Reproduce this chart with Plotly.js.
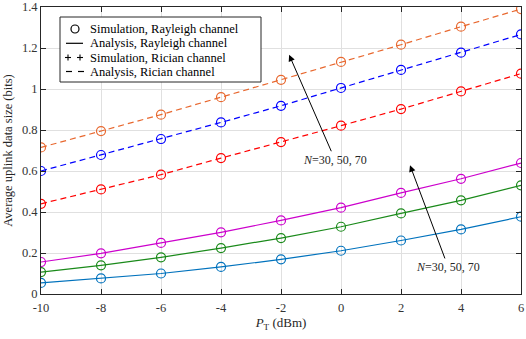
<!DOCTYPE html>
<html><head><meta charset="utf-8">
<script src="https://cdn.plot.ly/plotly-3.0.1.min.js"></script>
<style>body{margin:0;padding:0;background:#fff}#chart{width:526px;height:339px}</style>
</head><body><div id="chart"></div>
<script>
const pt = [-10, -8, -6, -4, -2, 0, 2, 4, 6];
const ricianN70 = [0.715, 0.795, 0.875, 0.960, 1.045, 1.132, 1.216, 1.304, 1.390];
const ricianN50 = [0.600, 0.678, 0.756, 0.837, 0.918, 1.005, 1.093, 1.177, 1.266];
const ricianN30 = [0.440, 0.510, 0.582, 0.663, 0.741, 0.821, 0.902, 0.988, 1.075];
const rayleighN70 = [0.156, 0.198, 0.249, 0.301, 0.359, 0.421, 0.493, 0.562, 0.639];
const rayleighN50 = [0.107, 0.140, 0.179, 0.224, 0.273, 0.328, 0.393, 0.457, 0.530];
const rayleighN30 = [0.054, 0.076, 0.100, 0.132, 0.169, 0.211, 0.261, 0.315, 0.377];
const xTicks = [-10, -8, -6, -4, -2, 0, 2, 4, 6];
const xTickText = ['-10', '-8', '-6', '-4', '-2', '0', '2', '4', '6'];
const yTicks = [0, 0.2, 0.4, 0.6, 0.8, 1, 1.2, 1.4];
const yTickText = ['0', '0.2', '0.4', '0.6', '0.8', '1', '1.2', '1.4'];
const legendNames = ['Simulation, Rayleigh channel', 'Analysis, Rayleigh channel', 'Simulation, Rician channel', 'Analysis, Rician channel'];

const series = [
  {y: ricianN70, color: '#E8682F', dash: '6px,4px'},
  {y: ricianN50, color: '#0000FF', dash: '6px,4px'},
  {y: ricianN30, color: '#FF0000', dash: '6px,4px'},
  {y: rayleighN70, color: '#CC00CC', dash: 'solid'},
  {y: rayleighN50, color: '#1A8A1A', dash: 'solid'},
  {y: rayleighN30, color: '#0072BD', dash: 'solid'}
];
const traces = series.map(s => ({
  x: pt, y: s.y, type: 'scatter', mode: 'lines+markers', showlegend: false,
  line: {color: s.color, width: 1.2, dash: s.dash},
  marker: {symbol: 'circle-open', size: 9, color: s.color, line: {width: 1.2, color: s.color}}
}));

// plot area in pixels (for placing the legend box in paper coordinates)
const L = 41, R = 521, T = 7, B = 294;
const px = v => (v - L) / (R - L);
const py = v => (B - v) / (B - T);
const rows = [29, 43.3, 57.5, 71.5];
const font = {family: '"Liberation Serif", "Times New Roman", serif', size: 12, color: '#262626'};

const shapes = [
  {type: 'rect', xref: 'paper', yref: 'paper', x0: px(60), x1: px(261), y0: py(82), y1: py(17),
   line: {color: '#262626', width: 1}, fillcolor: '#fff', layer: 'above'},
  {type: 'circle', xref: 'paper', yref: 'paper', xsizemode: 'pixel', ysizemode: 'pixel',
   xanchor: px(75), yanchor: py(rows[0]), x0: -4, x1: 4, y0: -4, y1: 4, line: {color: '#000', width: 1.2}},
  {type: 'line', xref: 'paper', yref: 'paper', x0: px(66), x1: px(83), y0: py(rows[1]), y1: py(rows[1]),
   line: {color: '#000', width: 1.2}},
  {type: 'line', xref: 'paper', yref: 'paper', x0: px(66), x1: px(72), y0: py(rows[3]), y1: py(rows[3]),
   line: {color: '#000', width: 1.2}},
  {type: 'line', xref: 'paper', yref: 'paper', x0: px(78), x1: px(84), y0: py(rows[3]), y1: py(rows[3]),
   line: {color: '#000', width: 1.2}}
];
[68, 80].forEach(cx => {
  shapes.push({type: 'line', xref: 'paper', yref: 'paper', xsizemode: 'pixel', ysizemode: 'pixel',
    xanchor: px(cx), yanchor: py(rows[2]), x0: -3, x1: 3, y0: 0, y1: 0, line: {color: '#000', width: 1.1}});
  shapes.push({type: 'line', xref: 'paper', yref: 'paper', xsizemode: 'pixel', ysizemode: 'pixel',
    xanchor: px(cx), yanchor: py(rows[2]), x0: 0, x1: 0, y0: -3, y1: 3, line: {color: '#000', width: 1.1}});
});

const annotations = legendNames.map((n, i) => ({
  xref: 'paper', yref: 'paper', x: px(88), y: py(rows[i]), xanchor: 'left', yanchor: 'middle',
  text: n, showarrow: false, font: {family: font.family, size: 12.5, color: '#000'}
}));
annotations.push(
  {x: -1.73, y: 1.167, ax: -0.2, ay: 0.655, xref: 'x', yref: 'y', axref: 'x', ayref: 'y',
   text: '<i>N</i>=30, 50, 70', showarrow: true, arrowhead: 2, arrowsize: 1.3, arrowwidth: 1,
   arrowcolor: '#000', font: {size: 12, color: '#262626'}},
  {x: 2.3, y: 0.628, ax: 3.57, ay: 0.132, xref: 'x', yref: 'y', axref: 'x', ayref: 'y',
   text: '<i>N</i>=30, 50, 70', showarrow: true, arrowhead: 2, arrowsize: 1.3, arrowwidth: 1,
   arrowcolor: '#000', font: {size: 12, color: '#262626'}}
);

const layout = {
  width: 526, height: 339,
  margin: {l: L, r: 526 - R, t: T, b: 339 - B},
  paper_bgcolor: '#fff', plot_bgcolor: '#fff',
  font: font,
  showlegend: false,
  xaxis: {range: [-10, 6], tickvals: xTicks, ticktext: xTickText, ticks: 'inside', ticklen: 5,
    tickcolor: '#262626', showline: true, linecolor: '#262626', linewidth: 1, mirror: 'ticks',
    showgrid: true, gridcolor: '#e0e0e0', zeroline: false, ticklabeloverflow: 'allow',
    ticklabelstandoff: 2, tickfont: {size: 12.5, color: '#333'},
    title: {text: '<i>P</i><sub>T</sub> (dBm)', font: {size: 13, color: '#262626'}, standoff: 2}},
  yaxis: {range: [0, 1.4], tickvals: yTicks, ticktext: yTickText, ticks: 'inside', ticklen: 5,
    tickcolor: '#262626', showline: true, linecolor: '#262626', linewidth: 1, mirror: 'ticks',
    showgrid: true, gridcolor: '#e0e0e0', zeroline: false, ticklabeloverflow: 'allow',
    tickfont: {size: 12.5, color: '#333'},
    title: {text: 'Average uplink data size (bits)', font: {size: 12.5, color: '#262626'}, standoff: 6}},
  shapes: shapes,
  annotations: annotations
};
Plotly.newPlot('chart', traces, layout, {displayModeBar: false, staticPlot: true});
</script></body></html>
